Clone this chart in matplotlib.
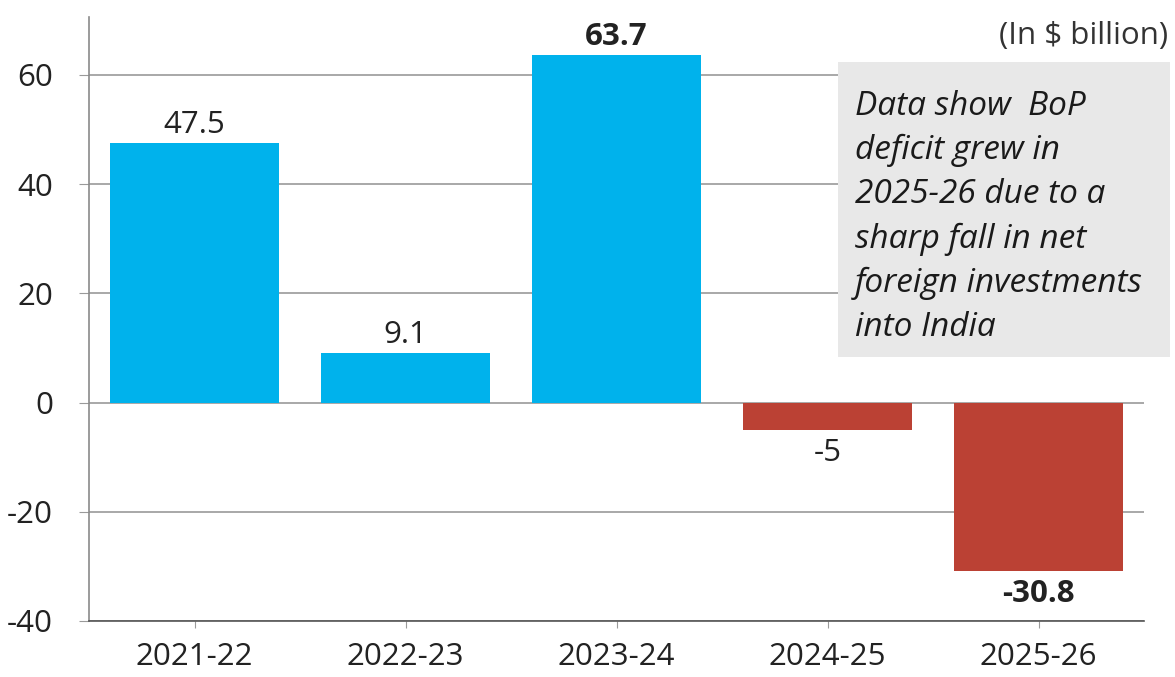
import matplotlib
matplotlib.use("Agg")
import matplotlib.pyplot as plt
from matplotlib.patches import Rectangle

categories = ["2021-22", "2022-23", "2023-24", "2024-25", "2025-26"]
values = [47.5, 9.1, 63.7, -5.0, -30.8]
value_labels = ["47.5", "9.1", "63.7", "-5", "-30.8"]
bold_labels = [False, False, True, False, True]
yticks = [-40, -20, 0, 20, 40, 60]

BLUE = "#00B2EC"
RED = "#BB4134"
FONT = ["Open Sans", "DejaVu Sans"]
plt.rcParams["font.family"] = FONT

W, H = 1175, 677
fig = plt.figure(figsize=(W / 100, H / 100), dpi=100)
ax = fig.add_axes([89 / W, 1 - 621 / H, (1144 - 89) / W, (621 - 17) / H])

colors = [BLUE if v >= 0 else RED for v in values]
x = list(range(len(categories)))
ax.bar(x, values, width=0.8, color=colors, zorder=3)

FS = 22.5
ax.set_xlim(-0.5, 4.5)
ax.set_ylim(-40, 70.6)
ax.set_yticks(yticks)
ax.set_yticklabels([str(t) for t in yticks], fontsize=FS, color="#222222")
ax.set_xticks(x)
ax.set_xticklabels(categories, fontsize=FS, color="#222222")
ax.yaxis.grid(True, color="#9a9a9a", linewidth=1.2, zorder=0)
ax.tick_params(axis="y", length=7, color="#9a9a9a", pad=19)
ax.tick_params(axis="x", length=5, color="#9a9a9a", pad=10)
for s in ["top", "right"]:
    ax.spines[s].set_visible(False)
ax.spines["left"].set_color("#8a8a8a")
ax.spines["bottom"].set_color("#555555")
ax.spines["left"].set_linewidth(1.2)
ax.spines["bottom"].set_linewidth(1.2)

for xi, v, lab, b in zip(x, values, value_labels, bold_labels):
    if v >= 0:
        ax.annotate(lab, (xi, v), xytext=(0, 2), textcoords="offset points",
                    ha="center", va="bottom", fontsize=FS,
                    fontweight="bold" if b else "normal", color="#222222")
    else:
        ax.annotate(lab, (xi, v), xytext=(0, -6), textcoords="offset points",
                    ha="center", va="top", fontsize=FS,
                    fontweight="bold" if b else "normal", color="#222222")

fig.text(1168 / W, 1 - 36 / H, "(In $ billion)", ha="right", va="center",
         fontsize=22.5, color="#333333")

fig.patches.append(Rectangle((838 / W, 1 - 357 / H), (1170 - 838) / W, (357 - 62) / H,
                             transform=fig.transFigure, facecolor="#E8E8E8",
                             edgecolor="none", zorder=5))
note = ("Data show  BoP\ndeficit grew in\n2025-26 due to a\nsharp fall in net\n"
        "foreign investments\ninto India")
fig.text(855 / W, 1 - 90 / H, note, ha="left", va="top", fontsize=24,
         style="italic", color="#1a1a1a", linespacing=1.44, zorder=6)

fig.savefig("out.png", dpi=100)
